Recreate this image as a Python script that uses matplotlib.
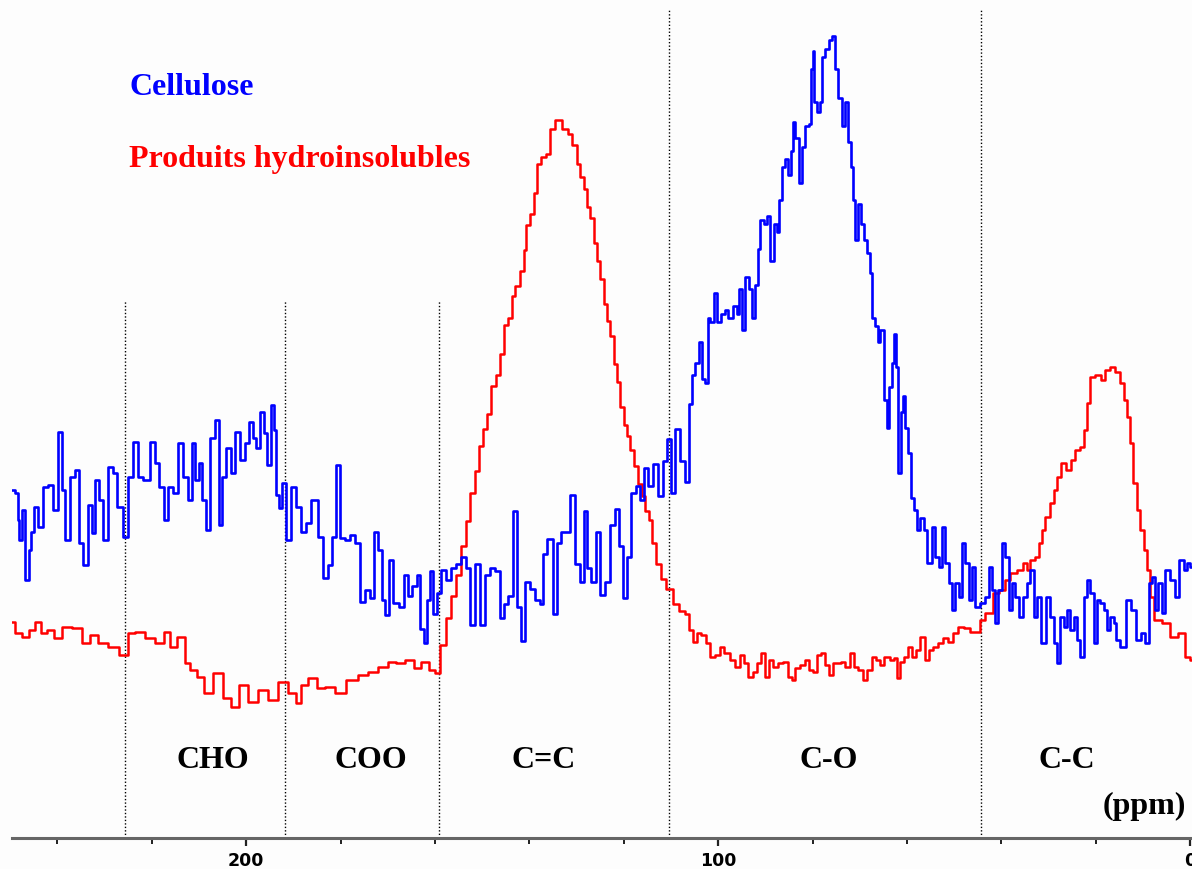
import matplotlib.pyplot as plt
from matplotlib.ticker import MultipleLocator

# chemical shift (ppm) and intensity (a.u.)
cellulose_ppm = [
    249.6, 248.5, 248.3, 247.9, 247.2, 246.4, 245.8, 245.3, 244.7, 243.6,
    242.6, 241.5, 240.5, 239.4, 238.8, 237.9, 236.9, 235.8, 235.2, 233.9,
    233.1, 232.4, 231.6, 230.9, 229.9, 228.8, 227.8, 226.7, 225.6, 224.6,
    223.5, 222.5, 221.0, 219.9, 218.9, 217.8, 216.9, 216.1, 215.0, 214.0,
    212.9, 211.9, 211.2, 210.4, 209.7, 209.1, 208.1, 207.0, 206.1, 205.5,
    204.9, 203.8, 202.8, 201.9, 200.8, 199.8, 198.9, 198.1, 197.5, 196.6,
    196.0, 195.3, 194.3, 193.9, 193.4, 192.8, 192.2, 191.1, 190.0, 189.0,
    187.9, 186.9, 185.4, 184.3, 183.3, 182.2, 181.6, 180.5, 179.7, 178.6,
    177.5, 176.5, 175.4, 174.4, 173.3, 172.5, 171.6, 171.0, 170.1, 169.5,
    168.4, 166.9, 166.3, 165.3, 164.2, 163.6, 162.7, 162.1, 161.4, 160.6,
    160.0, 159.1, 158.3, 157.2, 156.1, 155.1, 154.0, 153.0, 152.1, 151.1,
    150.0, 148.9, 147.9, 146.8, 145.8, 145.1, 144.1, 143.0, 142.4, 141.3,
    140.5, 139.4, 138.3, 137.3, 136.7, 135.6, 134.5, 133.9, 132.8, 131.8,
    130.9, 129.9, 128.8, 128.2, 127.5, 126.5, 125.4, 124.6, 123.5, 122.5,
    121.4, 120.8, 119.7, 119.1, 118.0, 116.9, 116.1, 115.5, 114.4, 113.3,
    112.3, 111.2, 110.6, 109.5, 108.7, 107.6, 106.6, 105.9, 105.3, 104.4,
    103.8, 103.2, 102.3, 102.1, 101.3, 100.6, 100.0, 98.9, 98.1, 97.5,
    96.4, 95.8, 95.3, 94.7, 93.9, 93.2, 92.6, 91.7, 91.5, 90.7,
    90.0, 89.4, 88.6, 87.9, 87.3, 86.9, 86.2, 85.4, 85.0, 84.3,
    84.1, 83.3, 82.6, 82.0, 81.1, 80.5, 80.1, 79.9, 79.4, 78.8,
    78.0, 77.8, 76.9, 76.3, 75.6, 74.8, 74.2, 73.5, 72.7, 72.2,
    71.6, 71.4, 70.6, 70.1, 69.3, 68.9, 68.2, 67.6, 67.2, 66.3,
    65.9, 65.3, 64.6, 64.0, 63.6, 62.9, 62.5, 62.1, 61.7, 61.0,
    60.6, 60.0, 59.5, 58.9, 58.1, 57.6, 56.8, 56.1, 55.5, 55.1,
    54.4, 53.6, 53.0, 52.3, 51.5, 50.8, 50.2, 49.4, 48.7, 48.1,
    47.2, 46.6, 46.0, 45.1, 44.1, 43.0, 42.4, 41.7, 40.9, 40.3,
    39.6, 38.8, 38.1, 37.5, 36.7, 35.6, 35.0, 34.3, 33.5, 32.8,
    32.2, 31.1, 30.1, 29.2, 28.6, 28.0, 27.1, 26.5, 25.8, 25.0,
    24.4, 23.7, 22.9, 22.2, 21.6, 20.8, 20.1, 19.5, 18.6, 18.0,
    17.4, 16.5, 15.9, 15.3, 14.2, 13.1, 12.1, 11.0, 10.0, 9.1,
    8.5, 7.8, 7.0, 6.4, 5.7, 4.9, 3.8, 2.8, 1.7, 1.1,
    0.4, -0.4,
]
cellulose_int = [
    230, 227, 200, 180, 210, 140, 170, 188, 213, 193,
    233, 235, 210, 288, 230, 180, 243, 250, 177, 155,
    215, 187, 240, 220, 180, 253, 247, 213, 183, 243,
    278, 243, 240, 278, 257, 233, 200, 233, 227, 277,
    243, 220, 277, 240, 257, 220, 190, 282, 300, 195,
    243, 272, 247, 288, 260, 277, 298, 282, 272, 308,
    287, 255, 315, 290, 225, 212, 237, 180, 233, 213,
    188, 197, 220, 183, 142, 155, 183, 255, 182, 180,
    185, 177, 118, 130, 122, 188, 170, 120, 105, 160,
    117, 113, 145, 124, 134, 145, 91, 77, 120, 149,
    106, 127, 150, 140, 152, 156, 163, 152, 95, 156,
    95, 145, 152, 149, 102, 116, 124, 209, 113, 79,
    138, 131, 120, 116, 166, 181, 106, 177, 188, 188,
    225, 156, 138, 209, 152, 138, 188, 125, 138, 195,
    211, 174, 122, 163, 227, 234, 220, 252, 234, 256,
    224, 259, 281, 227, 291, 259, 238, 316, 345, 357,
    378, 341, 337, 402, 398, 427, 398, 406, 410, 402,
    414, 406, 431, 390, 443, 431, 402, 435, 471, 500,
    496, 504, 459, 496, 488, 520, 553, 561, 545, 569,
    598, 582, 537, 573, 594, 596, 651, 669, 618, 608,
    618, 663, 671, 680, 684, 651, 622, 594, 618, 578,
    553, 520, 480, 516, 496, 480, 467, 447, 402, 394,
    378, 390, 320, 292, 333, 357, 386, 353, 247, 308,
    324, 292, 267, 222, 210, 190, 202, 190, 157, 157,
    193, 163, 153, 193, 157, 137, 110, 137, 123, 177,
    157, 120, 153, 113, 117, 123, 153, 130, 97, 130,
    177, 163, 110, 137, 123, 103, 123, 137, 150, 103,
    123, 77, 123, 103, 77, 57, 103, 93, 110, 90,
    103, 80, 63, 123, 140, 127, 77, 120, 117, 110,
    90, 103, 97, 80, 73, 120, 110, 80, 87, 77,
    137, 143, 110, 137, 107, 150, 140, 123, 160, 150,
    157, 153,
]

produits_ppm = [
    249.6, 248.3, 246.8, 245.3, 244.1, 243.0, 241.5, 240.0, 237.9, 235.8,
    233.7, 232.4, 230.3, 228.2, 225.6, 224.6, 222.5, 220.3, 218.2, 216.7,
    215.5, 213.6, 212.5, 211.2, 209.7, 208.3, 205.9, 204.0, 202.3, 200.6,
    198.5, 196.4, 194.3, 192.2, 190.0, 189.0, 187.9, 185.8, 184.3, 182.2,
    180.1, 177.5, 175.2, 173.1, 171.0, 168.9, 167.4, 165.3, 163.6, 162.1,
    160.6, 159.5, 158.3, 157.2, 156.1, 155.1, 154.0, 153.0, 152.1, 151.1,
    150.4, 149.4, 148.7, 147.7, 146.6, 145.8, 145.1, 144.1, 143.4, 142.6,
    141.5, 140.9, 140.3, 139.2, 138.8, 138.1, 137.1, 136.0, 135.2, 133.9,
    132.4, 131.4, 130.3, 129.7, 128.8, 128.2, 127.5, 126.7, 126.1, 125.4,
    124.6, 123.9, 123.3, 122.5, 121.8, 121.2, 120.3, 119.7, 119.1, 118.2,
    117.6, 116.5, 115.9, 115.0, 114.4, 113.8, 112.7, 111.7, 110.2, 109.1,
    107.6, 106.6, 105.9, 104.9, 104.2, 103.2, 102.1, 101.3, 100.2, 99.2,
    98.1, 97.0, 96.0, 94.9, 94.3, 93.2, 92.2, 91.5, 90.5, 89.6,
    89.0, 87.9, 86.9, 85.8, 84.7, 84.1, 83.3, 82.2, 81.1, 80.5,
    79.4, 78.8, 77.8, 76.9, 76.3, 75.2, 74.6, 73.5, 72.7, 71.6,
    71.0, 69.9, 68.9, 67.8, 67.2, 66.1, 65.3, 64.2, 63.1, 62.5,
    61.9, 61.0, 60.4, 59.3, 58.7, 57.6, 56.8, 55.7, 55.1, 54.0,
    53.0, 51.9, 50.8, 49.8, 48.7, 47.2, 46.0, 44.9, 44.1, 43.0,
    42.4, 41.3, 39.8, 38.8, 37.5, 36.0, 35.0, 34.3, 33.5, 32.4,
    31.8, 31.1, 30.3, 29.2, 28.6, 28.0, 26.9, 25.8, 24.8, 23.9,
    22.9, 22.2, 21.6, 20.8, 19.5, 18.4, 17.6, 16.5, 15.5, 14.4,
    13.8, 13.1, 12.3, 11.7, 11.0, 10.2, 9.5, 8.9, 8.1, 7.0,
    4.9, 3.6, 1.7, 0.6, -0.4,
]
produits_int = [
    98, 87, 83, 90, 98, 87, 90, 82, 93, 92,
    77, 85, 77, 73, 65, 87, 88, 82, 77, 88,
    73, 83, 57, 50, 43, 27, 47, 22, 13, 35,
    18, 30, 20, 38, 27, 17, 35, 42, 32, 33,
    27, 40, 45, 48, 53, 58, 57, 60, 52, 58,
    50, 47, 75, 102, 124, 145, 174, 199, 227, 249,
    274, 291, 306, 334, 345, 366, 395, 402, 424, 434,
    449, 470, 495, 506, 527, 556, 563, 566, 591, 600,
    591, 586, 575, 556, 543, 531, 513, 502, 477, 459,
    441, 416, 399, 384, 356, 338, 313, 295, 284, 270,
    254, 236, 224, 209, 200, 177, 156, 141, 131, 116,
    109, 106, 90, 78, 87, 85, 77, 63, 65, 73,
    67, 60, 53, 65, 57, 43, 48, 57, 67, 43,
    60, 53, 57, 58, 43, 40, 52, 55, 60, 50,
    48, 65, 67, 55, 45, 57, 57, 58, 53, 67,
    53, 50, 40, 50, 63, 60, 55, 63, 60, 62,
    42, 58, 63, 73, 63, 70, 83, 60, 70, 73,
    77, 82, 78, 87, 93, 92, 88, 88, 100, 107,
    107, 127, 130, 140, 147, 150, 157, 150, 160, 163,
    177, 190, 203, 217, 230, 243, 257, 250, 260, 270,
    273, 290, 317, 343, 345, 340, 350, 353, 348, 337,
    320, 303, 277, 237, 210, 190, 170, 150, 123, 100,
    97, 83, 87, 63, 60,
]

region_edges_low = [225.7, 191.8, 159.1]
region_edges_high = [110.4, 44.3]
region_names = ["CHO", "COO", "C=C", "C-O", "C-C"]
region_centers = [207.0, 173.5, 137.0, 76.5, 26.2]
major_ticks = [200, 100, 0]

fig = plt.figure(figsize=(11.92, 8.69), dpi=100)
fig.patch.set_facecolor("#fdfdfd")
ax = fig.add_axes([12 / 1192, 31 / 869, 1 - 12 / 1192, 838 / 869])
ax.set_facecolor("#fdfdfd")

ax.plot(cellulose_ppm, cellulose_int, color="#0000ff", lw=1.9,
        drawstyle="steps-mid", zorder=3)
ax.plot(produits_ppm, produits_int, color="#ff0000", lw=1.8,
        drawstyle="steps-mid", zorder=2)

for e in region_edges_low:
    ax.plot([e, e], [-118, 420], color="black", ls=(0, (1, 1.5)), lw=1.0,
            zorder=1)
for e in region_edges_high:
    ax.plot([e, e], [-118, 710], color="black", ls=(0, (1, 1.5)), lw=1.0,
            zorder=1)

serif = dict(family="Liberation Serif", weight="bold", fontsize=23)
for name, c in zip(region_names, region_centers):
    ax.text(c, -40, name, ha="center", va="center", color="black", **serif)
ax.text(0.9, -86, "(ppm)", ha="right", va="center", color="black", **serif)

ax.text(0.0992, 0.8866, "Cellulose", transform=ax.transAxes, ha="left",
        va="baseline", color="#0000ff", **serif)
ax.text(0.0992, 0.8007, "Produits hydroinsolubles", transform=ax.transAxes,
        ha="left", va="baseline", color="#ff0000", **serif)

ax.set_xlim(249.6, -0.4)
ax.set_ylim(-118, 720)

for s in ["top", "left", "right"]:
    ax.spines[s].set_visible(False)
ax.spines["bottom"].set_color("#666666")
ax.spines["bottom"].set_linewidth(2.2)
ax.set_yticks([])
ax.set_xticks(major_ticks)
ax.set_xticklabels([str(t) for t in major_ticks])
ax.xaxis.set_minor_locator(MultipleLocator(20))
ax.tick_params(axis="x", which="major", length=6, width=1.6, color="#222222",
               pad=4, labelsize=12.5)
ax.tick_params(axis="x", which="minor", length=4, width=1.4, color="#222222")
for lab in ax.get_xticklabels():
    lab.set_fontweight("heavy")
    lab.set_family("DejaVu Sans")

fig.savefig("out.png", dpi=100, facecolor=fig.get_facecolor())
